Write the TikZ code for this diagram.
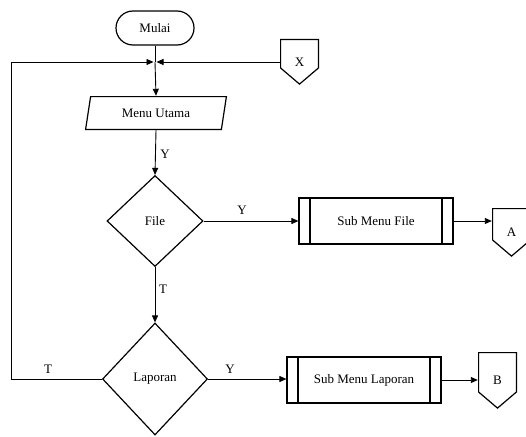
\documentclass[tikz,border=0pt]{standalone}
\usepackage{fontspec}
\setmainfont{Liberation Serif}
\usetikzlibrary{arrows.meta,shapes.geometric}

\begin{document}
\begin{tikzpicture}[
  x=1pt,y=-1pt,
  font=\fontsize{13}{15}\selectfont,
  every node/.style={inner sep=0pt},
  flow/.style={draw,line width=0.9pt,-{Triangle[length=7pt,width=6pt]}},
  line/.style={draw,line width=0.9pt},
  term/.style={rectangle,draw,line width=1.2pt,rounded corners=17pt,minimum width=78pt,minimum height=34pt},
  io/.style={rectangle,minimum width=142pt,minimum height=34pt,
    path picture={\draw[line width=1.2pt] ([shift={(5.6pt,-0.6pt)}]path picture bounding box.north west)
      -- ([shift={(-0.6pt,-0.6pt)}]path picture bounding box.north east)
      -- ([shift={(-5.6pt,0.6pt)}]path picture bounding box.south east)
      -- ([shift={(0.6pt,0.6pt)}]path picture bounding box.south west) -- cycle;}},
  decide/.style={diamond,draw,line width=1.2pt},
  subproc/.style={rectangle,draw,line width=1.2pt,minimum width=154pt,minimum height=46pt,
    path picture={\draw[line width=1.2pt] ([xshift=11pt]path picture bounding box.north west) -- ([xshift=11pt]path picture bounding box.south west)
      ([xshift=-11pt]path picture bounding box.north east) -- ([xshift=-11pt]path picture bounding box.south east);}},
  offpage/.style={rectangle,minimum width=39pt,minimum height=48pt,
    path picture={\draw[line width=1.2pt] ([shift={(0.6pt,-0.6pt)}]path picture bounding box.north west)
      -- ([shift={(-0.6pt,-0.6pt)}]path picture bounding box.north east)
      -- ([shift={(-0.6pt,17pt)}]path picture bounding box.south east)
      -- ([yshift=0.9pt]path picture bounding box.south)
      -- ([shift={(0.6pt,17pt)}]path picture bounding box.south west) -- cycle;}}
]
\useasboundingbox (0,0) rectangle (526,436);

\node[term] (mulai) at (155,28) {Mulai};
\node[offpage,minimum height=46pt] (x) at (299.5,62) {X};
\coordinate (j) at (155,62);
\node[io] (menu) at (156,113) {Menu Utama};
\node[decide,minimum width=96pt,minimum height=91pt] (file) at (155,221) {File};
\node[subproc] (subfile) at (376,221) {Sub Menu File};
\node[offpage,minimum height=49pt] (a) at (511.5,232.5) {A};
\node[decide,minimum width=105pt,minimum height=112pt] (laporan) at (155,379) {Laporan};
\node[subproc] (sublap) at (364,380) {Sub Menu Laporan};
\node[offpage,minimum height=57pt] (b) at (497.5,380.5) {B};

% connectors
\draw[line] (mulai.south) -- (j);
\draw[flow] (j) -- (menu.north);
\draw[flow,shorten >=1.5pt] (x.west) -- (j);
\draw[flow] (menu.south) -- (file.north);
\draw[flow] (file.east) -- (subfile.west);
\draw[flow] (subfile.east) -- (subfile.east -| a.west);
\draw[flow] (file.south) -- (laporan.north);
\draw[flow] (laporan.east) -- (laporan.east -| sublap.west);
\draw[flow] (sublap.east) -- (sublap.east -| b.west);
\draw[flow,shorten >=1.5pt] (laporan.west) -- ++(-90pt,0) |- (j);

% labels
\node (ly1) at (165,154) {Y};
\node (ly2) at (242,210) {Y};
\node (lt1) at (163,289) {T};
\node (lt2) at (48,369) {T};
\node (ly3) at (230,369) {Y};

\end{tikzpicture}
\end{document}
